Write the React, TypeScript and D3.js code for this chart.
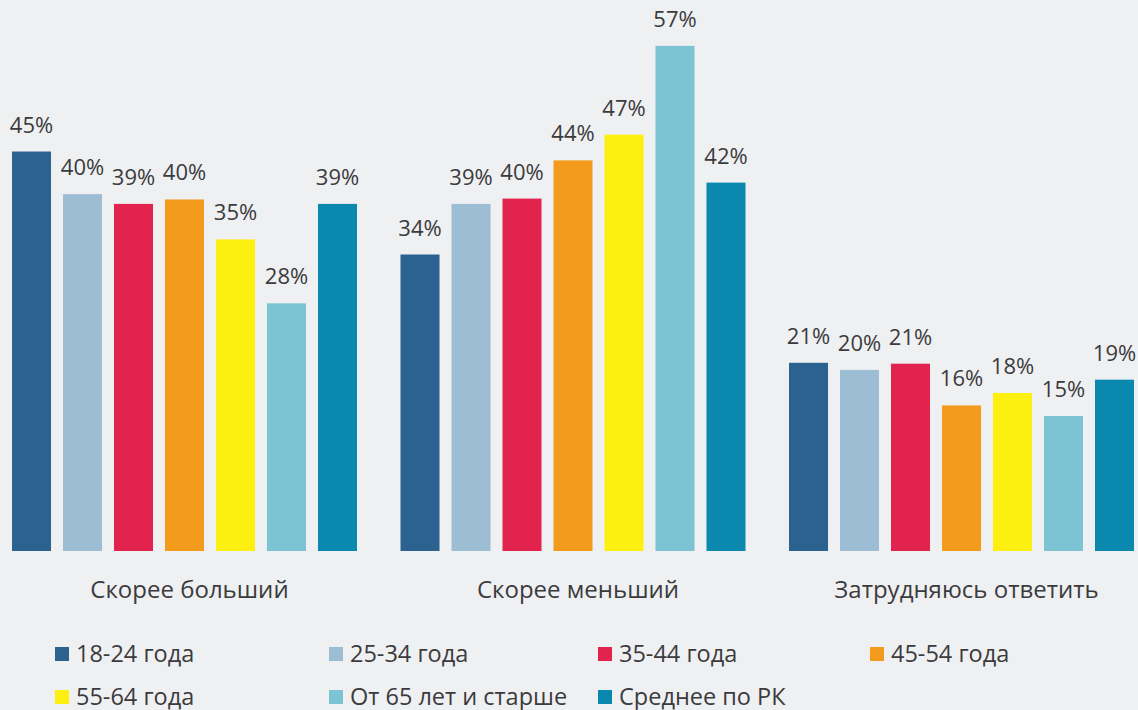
import React from "react";
import * as d3 from "d3";

const categories = ["Скорее больший", "Скорее меньший", "Затрудняюсь ответить"];
const seriesNames = [
  "18-24 года",
  "25-34 года",
  "35-44 года",
  "45-54 года",
  "55-64 года",
  "От 65 лет и старше",
  "Среднее по РК",
];
const seriesColors = ["#2b6290", "#9dbdd5", "#e2234d", "#f39b1d", "#fdef0f", "#7cc3d3", "#0a88ad"];

// values per series, in category order
const v1824 = [45.0, 33.4, 21.2];
const v2534 = [40.2, 39.1, 20.4];
const v3544 = [39.1, 39.7, 21.1];
const v4554 = [39.6, 44.0, 16.4];
const v5564 = [35.1, 46.9, 17.8];
const v65 = [27.9, 56.9, 15.2];
const vAvg = [39.1, 41.5, 19.3];
// printed labels
const l1824 = ["45%", "34%", "21%"];
const l2534 = ["40%", "39%", "20%"];
const l3544 = ["39%", "40%", "21%"];
const l4554 = ["40%", "44%", "16%"];
const l5564 = ["35%", "47%", "18%"];
const l65 = ["28%", "57%", "15%"];
const lAvg = ["39%", "42%", "19%"];

const seriesValues = [v1824, v2534, v3544, v4554, v5564, v65, vAvg];
const seriesLabels = [l1824, l2534, l3544, l4554, l5564, l65, lAvg];

const W = 1138;
const H = 710;
const FONT = "'Open Sans', 'Noto Sans', sans-serif";
const TEXT = "#3b3b3d";

export default function App() {
  const x0 = d3.scaleBand<string>().domain(categories).range([12, 1134]).paddingInner(0.112).paddingOuter(0);
  const x1 = d3
    .scaleBand<string>()
    .domain(seriesNames)
    .range([0, x0.bandwidth()])
    .paddingInner(0.235)
    .paddingOuter(0);
  const y = d3.scaleLinear().domain([0, 57]).range([551, 45]);

  const legendCols = [55, 329, 598, 870];
  const legendRows = [647, 690];

  return (
    <svg
      width={W}
      height={H}
      style={{ position: "absolute", left: 0, top: 0, background: "#eff0f2" }}
      fontFamily={FONT}
    >
      <rect x={0} y={0} width={W} height={H} fill="#eff0f2" />
      {categories.map((c, ci) => (
        <g key={c} transform={`translate(${x0(c)},0)`}>
          {seriesNames.map((s, si) => {
            const v = seriesValues[si][ci];
            const bx = x1(s)!;
            return (
              <g key={s}>
                <rect x={bx} y={y(v)} width={x1.bandwidth()} height={y(0) - y(v)} fill={seriesColors[si]} />
                <text
                  x={bx + x1.bandwidth() / 2}
                  y={y(v) - 19}
                  textAnchor="middle"
                  fontSize={22}
                  fill={TEXT}
                >
                  {seriesLabels[si][ci]}
                </text>
              </g>
            );
          })}
          <text x={x0.bandwidth() / 2 + 5} y={598} textAnchor="middle" fontSize={24} fill={TEXT}>
            {c}
          </text>
        </g>
      ))}
      {seriesNames.map((s, i) => {
        const col = i < 4 ? i : i - 4;
        const row = i < 4 ? 0 : 1;
        const lx = legendCols[col];
        const ly = legendRows[row];
        return (
          <g key={s} transform={`translate(${lx},${ly})`}>
            <rect x={0} y={0} width={14} height={14} fill={seriesColors[i]} />
            <text x={21} y={14.5} fontSize={23.5} fill={TEXT}>
              {s}
            </text>
          </g>
        );
      })}
    </svg>
  );
}
